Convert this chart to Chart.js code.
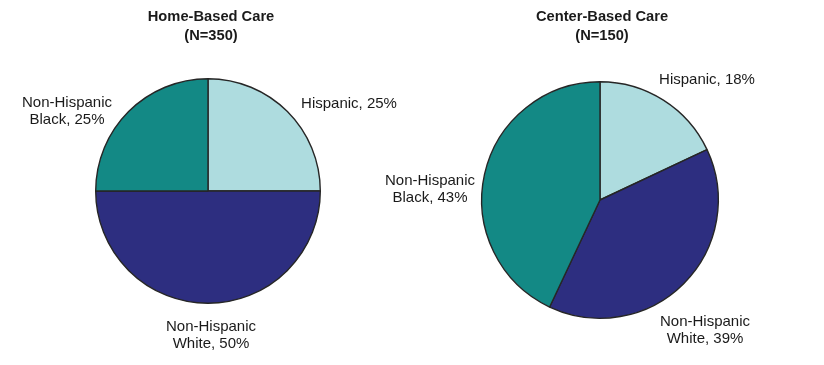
<!DOCTYPE html>
<html>
<head>
<meta charset="utf-8">
<script src="https://cdn.jsdelivr.net/npm/chart.js@4.4.0/dist/chart.umd.min.js"></script>
<style>
  html, body { margin: 0; padding: 0; background: #fff; }
  #wrap { position: relative; width: 824px; height: 365px; }
  #wrap canvas { position: absolute; left: 0; top: 0; }
</style>
</head>
<body>
<div id="wrap">
  <canvas id="pie-home" width="824" height="365"></canvas>
  <canvas id="pie-center" width="824" height="365"></canvas>
</div>
<script>
// ---------- Data --------------------------------------------------------
const groups = ["Hispanic", "Non-Hispanic White", "Non-Hispanic Black"];
const homeShare = [25, 50, 25];
const centerShare = [18, 39, 43];
const homeTitle = ["Home-Based Care", "(N=350)"];
const centerTitle = ["Center-Based Care", "(N=150)"];

const SLICE_COLORS = ["#aedcdf", "#2d2e80", "#138985"];
const FONT = "'Liberation Sans', Arial, sans-serif";

// label lines for a slice: "Non-Hispanic White" -> ["Non-Hispanic", "White, 50%"]
function sliceLabel(name, v) {
  const parts = name.split(" ");
  if (parts.length > 1) return [parts[0], parts.slice(1).join(" ") + ", " + v + "%"];
  return [name + ", " + v + "%"];
}

// titles above the pie and text labels around it, placed relative to pie centre
const pieText = {
  id: "pieText",
  afterDraw(chart, args, opts) {
    const arc = chart.getDatasetMeta(0).data[0];
    if (!arc) return;
    const { x, y } = arc;
    const ctx = chart.ctx;
    ctx.save();
    ctx.fillStyle = "#1a1a1a";
    ctx.textAlign = "center";
    ctx.textBaseline = "middle";

    ctx.font = "bold 14.7px " + FONT;
    opts.title.forEach((t, i) => ctx.fillText(t, x + opts.titleDx, opts.titleY + i * 19));

    ctx.font = "15px " + FONT;
    const values = chart.data.datasets[0].data;
    chart.data.labels.forEach((name, i) => {
      const lines = sliceLabel(name, values[i]);
      const [dx, dy] = opts.anchors[i];
      const top = y + dy - (lines.length - 1) * 8.5;
      lines.forEach((ln, j) => ctx.fillText(ln, x + dx, top + j * 17));
    });
    ctx.restore();
  }
};

function makePie(id, values, title, pad, anchors, titleDx) {
  return new Chart(document.getElementById(id), {
    type: "pie",
    data: {
      labels: groups,
      datasets: [{
        data: values,
        backgroundColor: SLICE_COLORS,
        borderColor: "#262626",
        borderWidth: 1.4,
      }],
    },
    options: {
      responsive: false,
      animation: false,
      layout: { padding: pad },
      plugins: {
        legend: { display: false },
        tooltip: { enabled: false },
        pieText: { title, anchors, titleY: 17, titleDx },
      },
    },
    plugins: [pieText],
  });
}

makePie("pie-home", homeShare, homeTitle,
  { left: 95, right: 503, top: 78, bottom: 61 },
  [[141, -87], [3, 144], [-141, -80]], 3);

makePie("pie-center", centerShare, centerTitle,
  { left: 481, right: 105, top: 81, bottom: 46 },
  [[107, -120], [105, 130], [-170, -11]], 2);
</script>
</body>
</html>
